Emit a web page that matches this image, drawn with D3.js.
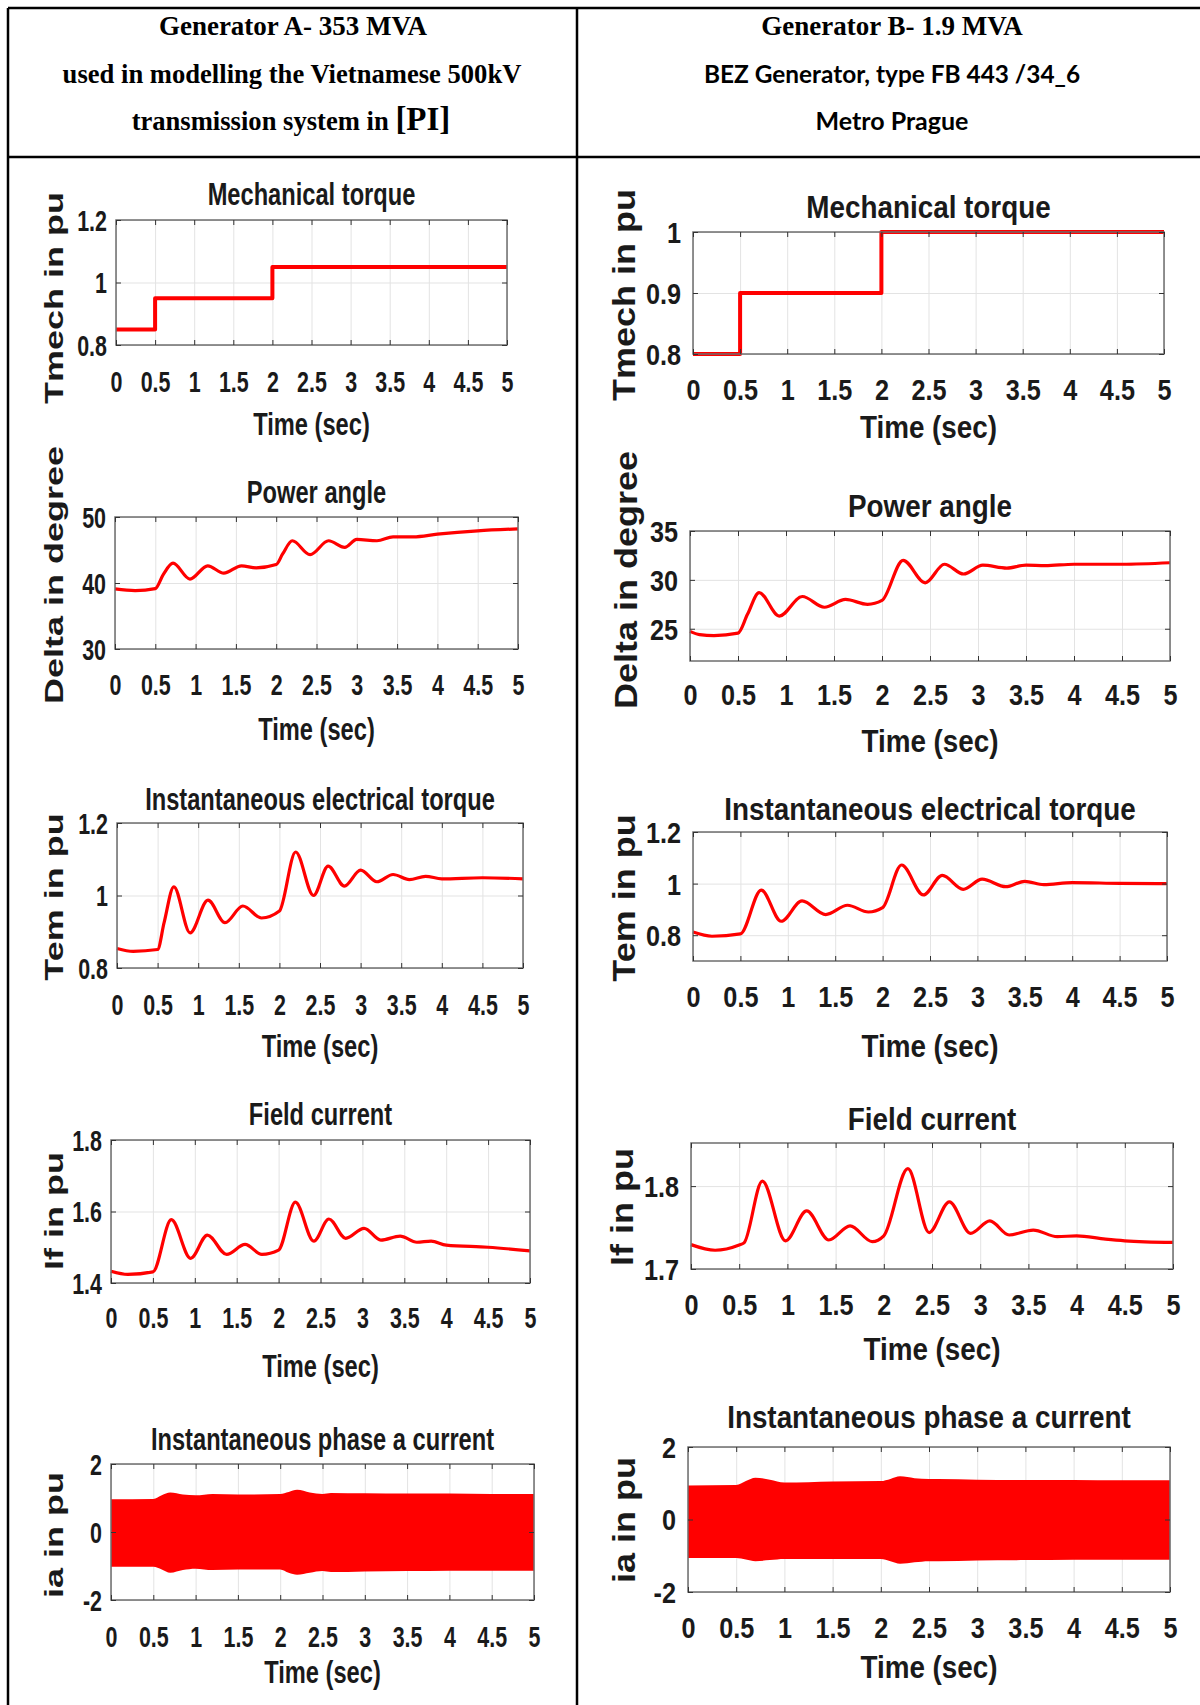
<!DOCTYPE html>
<html>
<head>
<meta charset="utf-8">
<script src="https://cdn.jsdelivr.net/npm/d3@7"></script>
<style>
  body { margin: 0; background: #fff; }
  svg { display: block; }
  .plot text { font-family: "Liberation Sans", Arial, sans-serif; font-weight: bold; fill: #1a1a1a; }
  .hdr { font-family: "Liberation Serif", "Times New Roman", serif; font-weight: bold; fill: #000; }
  .hdr2 { font-family: Lato, "Open Sans", sans-serif; font-weight: bold; fill: #000; }
</style>
</head>
<body>
<div id="chart"></div>
<script>
const timeTicks = [0, 0.5, 1, 1.5, 2, 2.5, 3, 3.5, 4, 4.5, 5];

// Generator A
const mechA_t = [0, 0.5, 2, 5];
const mechA = [0.85, 0.95, 1.05, 1.05];

const deltaA_t = [0, 0.25, 0.5, 0.6, 0.72, 0.93, 1.15, 1.35, 1.57, 1.75, 2.0, 2.08, 2.2, 2.42, 2.65, 2.85, 3.0, 3.25, 3.45, 3.7, 4.0, 4.5, 5.0];
const deltaA = [39.1, 38.85, 39.15, 41.3, 43.0, 40.6, 42.6, 41.5, 42.6, 42.3, 42.8, 44.4, 46.4, 44.3, 46.4, 45.4, 46.6, 46.4, 47.0, 47.0, 47.4, 47.9, 48.2];

const temA_t = [0, 0.2, 0.5, 0.58, 0.7, 0.9, 1.12, 1.33, 1.55, 1.78, 2.0, 2.2, 2.42, 2.6, 2.8, 3.0, 3.2, 3.4, 3.6, 3.8, 4.0, 4.5, 5.0];
const temA = [0.854, 0.846, 0.851, 0.925, 1.024, 0.897, 0.987, 0.925, 0.971, 0.938, 0.957, 1.12, 1.0, 1.081, 1.026, 1.07, 1.038, 1.058, 1.044, 1.053, 1.046, 1.049, 1.046];

const ifA_t = [0, 0.2, 0.5, 0.72, 0.95, 1.15, 1.38, 1.6, 1.8, 2.0, 2.2, 2.42, 2.6, 2.8, 3.02, 3.22, 3.45, 3.65, 3.82, 4.0, 4.5, 5.0];
const ifA = [1.433, 1.424, 1.431, 1.577, 1.469, 1.534, 1.48, 1.508, 1.48, 1.492, 1.626, 1.517, 1.579, 1.525, 1.553, 1.52, 1.531, 1.514, 1.517, 1.506, 1.5, 1.49];

const iaA_t = [0, 0.5, 0.6, 0.7, 0.85, 1.0, 1.2, 1.5, 2.0, 2.1, 2.2, 2.35, 2.5, 2.6, 3.0, 3.5, 4.0, 4.5, 5.0];
const iaA_hi = [0.96, 0.97, 1.08, 1.16, 1.1, 1.08, 1.12, 1.1, 1.12, 1.18, 1.24, 1.16, 1.12, 1.15, 1.14, 1.13, 1.13, 1.12, 1.12];
const iaA_lo = [-1.02, -1.02, -1.1, -1.2, -1.12, -1.08, -1.12, -1.1, -1.1, -1.2, -1.26, -1.2, -1.15, -1.18, -1.16, -1.15, -1.14, -1.14, -1.14];

// Generator B
const mechB_t = [0, 0.5, 2, 5];
const mechB = [0.8, 0.9, 1.0, 1.0];

const deltaB_t = [0, 0.1, 0.25, 0.5, 0.6, 0.72, 0.93, 1.17, 1.4, 1.62, 1.85, 2.0, 2.22, 2.45, 2.65, 2.85, 3.05, 3.3, 3.5, 3.7, 4.0, 4.5, 5.0];
const deltaB = [24.73, 24.4, 24.3, 24.55, 26.5, 28.7, 26.3, 28.3, 27.2, 28.0, 27.5, 27.9, 32.0, 29.7, 31.6, 30.6, 31.5, 31.2, 31.5, 31.45, 31.6, 31.6, 31.75];

const temB_t = [0, 0.2, 0.5, 0.72, 0.93, 1.15, 1.4, 1.63, 1.85, 2.0, 2.2, 2.43, 2.63, 2.85, 3.05, 3.3, 3.5, 3.7, 4.0, 4.5, 5.0];
const temB = [0.812, 0.796, 0.805, 0.975, 0.854, 0.933, 0.88, 0.916, 0.89, 0.907, 1.072, 0.956, 1.032, 0.978, 1.017, 0.988, 1.009, 0.996, 1.004, 1.001, 1.0];

const ifB_t = [0, 0.25, 0.5, 0.55, 0.74, 0.98, 1.2, 1.43, 1.65, 1.88, 2.0, 2.25, 2.47, 2.68, 2.9, 3.1, 3.3, 3.55, 3.8, 4.0, 4.3, 4.5, 5.0];
const ifB = [1.7294, 1.7226, 1.729, 1.7315, 1.806, 1.734, 1.77, 1.735, 1.752, 1.733, 1.74, 1.821, 1.744, 1.781, 1.743, 1.758, 1.741, 1.747, 1.739, 1.74, 1.736, 1.734, 1.732];

const iaB_t = [0, 0.5, 0.6, 0.7, 0.85, 1.0, 1.5, 2.0, 2.1, 2.2, 2.35, 2.5, 2.6, 3.0, 3.5, 4.0, 4.5, 5.0];
const iaB_hi = [0.94, 0.95, 1.06, 1.15, 1.1, 1.02, 1.05, 1.06, 1.12, 1.19, 1.14, 1.12, 1.12, 1.1, 1.09, 1.09, 1.08, 1.08];
const iaB_lo = [-1.06, -1.06, -1.1, -1.15, -1.12, -1.09, -1.09, -1.09, -1.15, -1.22, -1.18, -1.15, -1.15, -1.13, -1.12, -1.11, -1.11, -1.11];

const svg = d3.select("#chart").append("svg")
    .attr("width", 1200)
    .attr("height", 1705);

svg.append("rect").attr("width", 1200).attr("height", 1705).attr("fill", "#fff");

// table frame
const frame = svg.append("g").attr("stroke", "#000").attr("stroke-width", 2.5);
frame.append("line").attr("x1", 8).attr("x2", 1200).attr("y1", 8).attr("y2", 8);
frame.append("line").attr("x1", 8).attr("x2", 8).attr("y1", 8).attr("y2", 1705);
frame.append("line").attr("x1", 577).attr("x2", 577).attr("y1", 8).attr("y2", 1705);
frame.append("line").attr("x1", 8).attr("x2", 1200).attr("y1", 157).attr("y2", 157);

// header text
svg.append("text").attr("class", "hdr").attr("x", 293).attr("y", 35)
    .attr("text-anchor", "middle").attr("font-size", 27).text("Generator A- 353 MVA");
svg.append("text").attr("class", "hdr").attr("x", 292).attr("y", 83)
    .attr("text-anchor", "middle").attr("font-size", 26.6).text("used in modelling the Vietnamese 500kV");
const l3 = svg.append("text").attr("class", "hdr").attr("x", 291).attr("y", 130)
    .attr("text-anchor", "middle").attr("font-size", 26.6);
l3.append("tspan").text("transmission system in ");
l3.append("tspan").attr("font-size", 33).text("[PI]");

svg.append("text").attr("class", "hdr").attr("x", 892).attr("y", 35)
    .attr("text-anchor", "middle").attr("font-size", 27).text("Generator B- 1.9 MVA");
svg.append("text").attr("class", "hdr2").attr("x", 892).attr("y", 83)
    .attr("text-anchor", "middle").attr("font-size", 24.4).text("BEZ Generator, type FB 443 /34_6");
svg.append("text").attr("class", "hdr2").attr("x", 892).attr("y", 130)
    .attr("text-anchor", "middle").attr("font-size", 25).text("Metro Prague");

const fmt = d => String(d);

function drawPanel(cfg) {
    const [x0, x1, y0, y1] = cfg.box;
    const sx = cfg.sx;
    const g = svg.append("g").attr("class", "plot");
    const x = d3.scaleLinear().domain([0, 5]).range([x0, x1]);
    const y = d3.scaleLinear().domain(cfg.yDomain).range([y1, y0]);

    // grid
    g.append("g").attr("transform", `translate(0,${y1})`)
        .call(d3.axisBottom(x).tickValues(timeTicks).tickSize(-(y1 - y0)).tickFormat(""))
        .call(a => a.select(".domain").remove())
        .call(a => a.selectAll("line").attr("stroke", "#e3e3e3"));
    g.append("g").attr("transform", `translate(${x0},0)`)
        .call(d3.axisLeft(y).tickValues(cfg.yTicks).tickSize(-(x1 - x0)).tickFormat(""))
        .call(a => a.select(".domain").remove())
        .call(a => a.selectAll("line").attr("stroke", "#e3e3e3"));

    // data
    if (cfg.hi) {
        const pts = cfg.t.map((t, i) => ({ t, hi: cfg.hi[i], lo: cfg.lo[i] }));
        g.append("path").datum(pts)
            .attr("fill", "#ff0000")
            .attr("d", d3.area().x(d => x(d.t)).y0(d => y(d.lo)).y1(d => y(d.hi)).curve(d3.curveMonotoneX));
    } else {
        const pts = cfg.t.map((t, i) => ({ t, v: cfg.v[i] }));
        g.append("path").datum(pts)
            .attr("fill", "none")
            .attr("stroke", "#ff0000")
            .attr("stroke-width", cfg.lw || 3.2)
            .attr("stroke-linejoin", "round")
            .attr("d", d3.line().x(d => x(d.t)).y(d => y(d.v))
                .curve(cfg.step ? d3.curveStepAfter : d3.curveMonotoneX));
    }

    // box
    g.append("rect").attr("x", x0).attr("y", y0).attr("width", x1 - x0).attr("height", y1 - y0)
        .attr("fill", "none").attr("stroke", "#6e6e6e").attr("stroke-width", 1.5);

    // inward tick marks
    const tickCol = "#333";
    g.append("g").attr("transform", `translate(0,${y1})`)
        .call(d3.axisBottom(x).tickValues(timeTicks).tickSize(-5).tickFormat(""))
        .call(a => a.select(".domain").remove())
        .call(a => a.selectAll("line").attr("stroke", tickCol));
    g.append("g").attr("transform", `translate(0,${y0})`)
        .call(d3.axisTop(x).tickValues(timeTicks).tickSize(-5).tickFormat(""))
        .call(a => a.select(".domain").remove())
        .call(a => a.selectAll("line").attr("stroke", tickCol));
    g.append("g").attr("transform", `translate(${x0},0)`)
        .call(d3.axisLeft(y).tickValues(cfg.yTicks).tickSize(-5).tickFormat(""))
        .call(a => a.select(".domain").remove())
        .call(a => a.selectAll("line").attr("stroke", tickCol));
    g.append("g").attr("transform", `translate(${x1},0)`)
        .call(d3.axisRight(y).tickValues(cfg.yTicks).tickSize(-5).tickFormat(""))
        .call(a => a.select(".domain").remove())
        .call(a => a.selectAll("line").attr("stroke", tickCol));

    // tick labels
    g.append("g").attr("transform", `translate(0,${y1})`)
        .call(d3.axisBottom(x).tickValues(timeTicks).tickSize(0).tickFormat(fmt))
        .call(a => a.select(".domain").remove())
        .call(a => a.selectAll("text")
            .attr("y", cfg.tickDy).attr("dy", null)
            .attr("font-size", 29)
            .attr("transform", `scale(${sx},1)`));
    g.append("g").attr("transform", `translate(${x0},0)`)
        .call(d3.axisLeft(y).tickValues(cfg.yTicks).tickSize(0).tickFormat(fmt))
        .call(a => a.select(".domain").remove())
        .call(a => a.selectAll("text")
            .attr("x", -cfg.yGap / sx).attr("dy", "0.36em")
            .attr("font-size", 29)
            .attr("transform", `scale(${sx},1)`));
    g.selectAll(".tick text").attr("fill", "#1a1a1a").attr("font-family", null);
    g.selectAll("g").attr("font-family", null).attr("font-size", null);

    // title and labels
    const cx = (x0 + x1) / 2;
    g.append("text").attr("transform", `translate(${cx},${cfg.titleY}) scale(${sx},1)`)
        .attr("text-anchor", "middle").attr("font-size", 32).text(cfg.title);
    g.append("text").attr("transform", `translate(${cx},${cfg.xlabY}) scale(${sx},1)`)
        .attr("text-anchor", "middle").attr("font-size", 32).text("Time (sec)");
    g.append("text").attr("transform", `translate(${cfg.ylabX},${cfg.ylabY}) scale(${sx},1) rotate(-90)`)
        .attr("text-anchor", "middle").attr("font-size", 36).text(cfg.ylabel);
}

const sxA = 0.74, sxB = 0.87;

const panels = [
    { box: [116, 507, 220, 345], sx: sxA, yDomain: [0.8, 1.2], yTicks: [0.8, 1, 1.2], t: mechA_t, v: mechA, step: true, lw: 4,
      title: "Mechanical torque", titleY: 205, tickDy: 47, xlabY: 435, ylabel: "Tmech in pu", ylabX: 63, ylabY: 298, yGap: 9 },
    { box: [115, 518, 517, 649], sx: sxA, yDomain: [30, 50], yTicks: [30, 40, 50], t: deltaA_t, v: deltaA,
      title: "Power angle", titleY: 503, tickDy: 46, xlabY: 740, ylabel: "Delta in degree", ylabX: 63, ylabY: 575, yGap: 9 },
    { box: [117, 523, 823, 968], sx: sxA, yDomain: [0.8, 1.2], yTicks: [0.8, 1, 1.2], t: temA_t, v: temA,
      title: "Instantaneous electrical torque", titleY: 810, tickDy: 47, xlabY: 1057, ylabel: "Tem in pu", ylabX: 63, ylabY: 897, yGap: 9 },
    { box: [111, 530, 1140, 1283], sx: sxA, yDomain: [1.4, 1.8], yTicks: [1.4, 1.6, 1.8], t: ifA_t, v: ifA,
      title: "Field current", titleY: 1125, tickDy: 45, xlabY: 1377, ylabel: "If in pu", ylabX: 63, ylabY: 1211, yGap: 9 },
    { box: [111, 534, 1464, 1600], sx: sxA, yDomain: [-2, 2], yTicks: [-2, 0, 2], t: iaA_t, hi: iaA_hi, lo: iaA_lo,
      title: "Instantaneous phase a current", titleY: 1450, tickDy: 47, xlabY: 1683, ylabel: "ia in pu", ylabX: 63, ylabY: 1535, yGap: 9 },

    { box: [693, 1164, 232, 354], sx: sxB, yDomain: [0.8, 1.0], yTicks: [0.8, 0.9, 1], t: mechB_t, v: mechB, step: true, lw: 4,
      title: "Mechanical torque", titleY: 218, tickDy: 46, xlabY: 438, ylabel: "Tmech in pu", ylabX: 635, ylabY: 295, yGap: 12 },
    { box: [690, 1170, 531, 661], sx: sxB, yDomain: [21.7, 35], yTicks: [25, 30, 35], t: deltaB_t, v: deltaB,
      title: "Power angle", titleY: 517, tickDy: 44, xlabY: 752, ylabel: "Delta in degree", ylabX: 637, ylabY: 580, yGap: 12 },
    { box: [693, 1167, 832, 961], sx: sxB, yDomain: [0.7, 1.2], yTicks: [0.8, 1, 1.2], t: temB_t, v: temB,
      title: "Instantaneous electrical torque", titleY: 820, tickDy: 46, xlabY: 1057, ylabel: "Tem in pu", ylabX: 635, ylabY: 898, yGap: 12 },
    { box: [691, 1173, 1143, 1269], sx: sxB, yDomain: [1.7, 1.852], yTicks: [1.7, 1.8], t: ifB_t, v: ifB,
      title: "Field current", titleY: 1130, tickDy: 46, xlabY: 1360, ylabel: "If in pu", ylabX: 633, ylabY: 1207, yGap: 12 },
    { box: [688, 1170, 1447, 1592], sx: sxB, yDomain: [-2, 2], yTicks: [-2, 0, 2], t: iaB_t, hi: iaB_hi, lo: iaB_lo,
      title: "Instantaneous phase a current", titleY: 1428, tickDy: 46, xlabY: 1678, ylabel: "ia in pu", ylabX: 635, ylabY: 1520, yGap: 12 }
];

panels.forEach(drawPanel);
</script>
</body>
</html>
